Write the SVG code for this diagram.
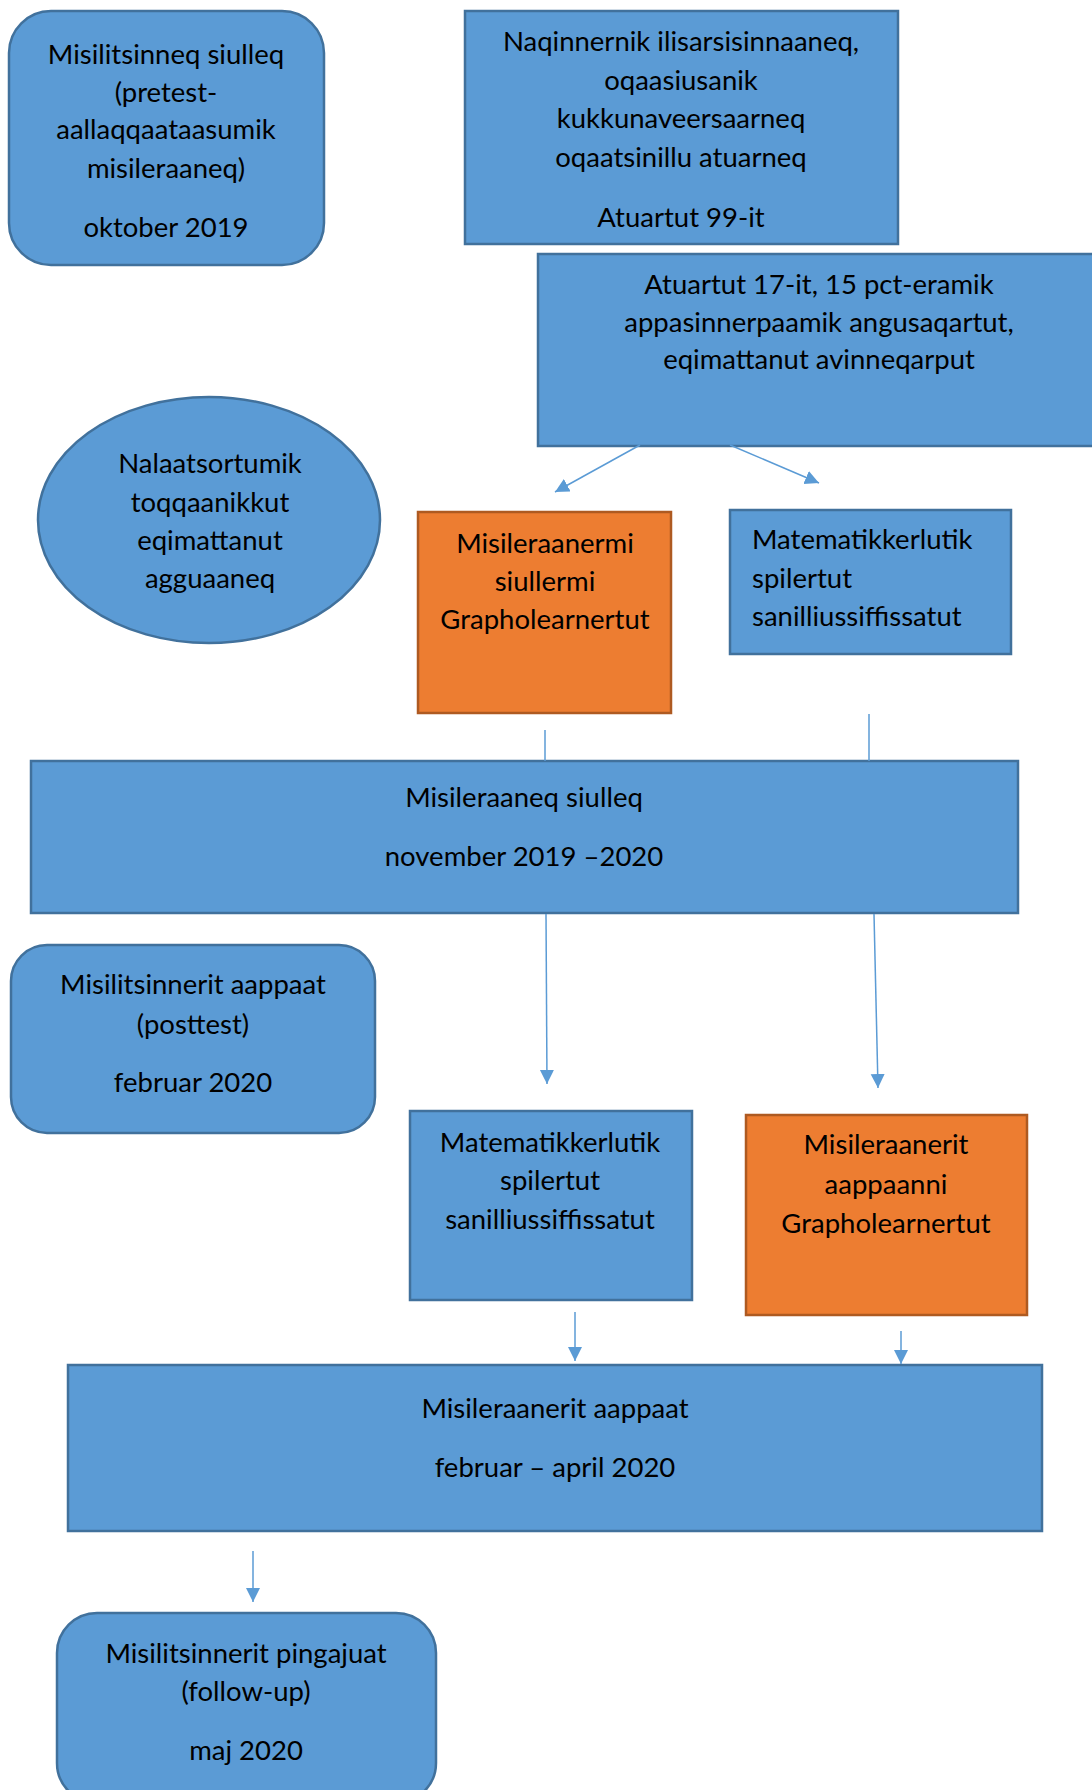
<svg xmlns="http://www.w3.org/2000/svg" width="1092" height="1790" viewBox="0 0 1092 1790">
<defs>
<style>
.b{fill:#5B9BD5;stroke:#41719C;stroke-width:2.5}
.o{fill:#ED7D31;stroke:#AE5A21;stroke-width:2.5}
text{font-family:Lato,"Open Sans","Liberation Sans",sans-serif;font-size:27.5px;fill:#000}
.c{text-anchor:middle}
.ln{stroke:#5B9BD5;stroke-width:1.5;fill:none}
</style>
<marker id="ah" markerUnits="userSpaceOnUse" markerWidth="16" markerHeight="16" refX="14" refY="7" orient="auto">
<path d="M0,0 L14,7 L0,14 Z" fill="#5B9BD5"/>
</marker>
</defs>
<rect width="1092" height="1790" fill="#fff"/>
<g id="n1">
<rect class="b" x="9" y="11" width="315" height="254" rx="42" ry="42"/>
<text class="c" x="166" y="64">Misilitsinneq siulleq</text>
<text class="c" x="166" y="102">(pretest-</text>
<text class="c" x="166" y="139">aallaqqaataasumik</text>
<text class="c" x="166" y="178">misileraaneq)</text>
<text class="c" x="166" y="237">oktober 2019</text>
</g>
<g id="n2">
<rect class="b" x="465" y="11" width="433" height="233"/>
<text class="c" x="681" y="51">Naqinnernik ilisarsisinnaaneq,</text>
<text class="c" x="681" y="90">oqaasiusanik</text>
<text class="c" x="681" y="128">kukkunaveersaarneq</text>
<text class="c" x="681" y="167">oqaatsinillu atuarneq</text>
<text class="c" x="681" y="227">Atuartut 99-it</text>
</g>
<g id="n3">
<rect class="b" x="538" y="254" width="570" height="192"/>
<text class="c" x="819" y="294">Atuartut 17-it, 15 pct-eramik</text>
<text class="c" x="819" y="332">appasinnerpaamik angusaqartut,</text>
<text class="c" x="819" y="369">eqimattanut avinneqarput</text>
</g>
<g id="n4">
<ellipse class="b" cx="209" cy="520" rx="171" ry="123"/>
<text class="c" x="210" y="473">Nalaatsortumik</text>
<text class="c" x="210" y="512">toqqaanikkut</text>
<text class="c" x="210" y="550">eqimattanut</text>
<text class="c" x="210" y="588">agguaaneq</text>
</g>
<g id="n5">
<rect class="o" x="418" y="512" width="253" height="201"/>
<text class="c" x="545" y="553">Misileraanermi</text>
<text class="c" x="545" y="591">siullermi</text>
<text class="c" x="545" y="629">Grapholearnertut</text>
</g>
<g id="n6">
<rect class="b" x="730" y="510" width="281" height="144"/>
<text x="752" y="549">Matematikkerlutik</text>
<text x="752" y="588">spilertut</text>
<text x="752" y="626">sanilliussiffissatut</text>
</g>
<g id="n7">
<rect class="b" x="31" y="761" width="987" height="152"/>
<text class="c" x="524" y="807">Misileraaneq siulleq</text>
<text class="c" x="524" y="866">november 2019 –2020</text>
</g>
<g id="n8">
<rect class="b" x="11" y="945" width="364" height="188" rx="36" ry="36"/>
<text class="c" x="193" y="994">Misilitsinnerit aappaat</text>
<text class="c" x="193" y="1034">(posttest)</text>
<text class="c" x="193" y="1092">februar 2020</text>
</g>
<g id="n9">
<rect class="b" x="410" y="1111" width="282" height="189"/>
<text class="c" x="550" y="1152">Matematikkerlutik</text>
<text class="c" x="550" y="1190">spilertut</text>
<text class="c" x="550" y="1229">sanilliussiffissatut</text>
</g>
<g id="n10">
<rect class="o" x="746" y="1115" width="281" height="200"/>
<text class="c" x="886" y="1154">Misileraanerit</text>
<text class="c" x="886" y="1194">aappaanni</text>
<text class="c" x="886" y="1233">Grapholearnertut</text>
</g>
<g id="n11">
<rect class="b" x="68" y="1365" width="974" height="166"/>
<text class="c" x="555" y="1418">Misileraanerit aappaat</text>
<text class="c" x="555" y="1477">februar – april 2020</text>
</g>
<g id="n12">
<rect class="b" x="57" y="1613" width="379" height="190" rx="40" ry="40"/>
<text class="c" x="246" y="1663">Misilitsinnerit pingajuat</text>
<text class="c" x="246" y="1701">(follow-up)</text>
<text class="c" x="246" y="1760">maj 2020</text>
</g>
<g id="connectors">
<line class="ln" x1="640" y1="445" x2="555" y2="492" marker-end="url(#ah)"/>
<line class="ln" x1="730" y1="445" x2="819" y2="483" marker-end="url(#ah)"/>
<line class="ln" x1="545" y1="730" x2="545" y2="761"/>
<line class="ln" x1="869" y1="714" x2="869" y2="761"/>
<line class="ln" x1="546" y1="914" x2="547" y2="1084" marker-end="url(#ah)"/>
<line class="ln" x1="874" y1="914" x2="878" y2="1088" marker-end="url(#ah)"/>
<line class="ln" x1="575" y1="1312" x2="575" y2="1361" marker-end="url(#ah)"/>
<line class="ln" x1="901" y1="1331" x2="901" y2="1364" marker-end="url(#ah)"/>
<line class="ln" x1="253" y1="1551" x2="253" y2="1602" marker-end="url(#ah)"/>
</g>
</svg>
